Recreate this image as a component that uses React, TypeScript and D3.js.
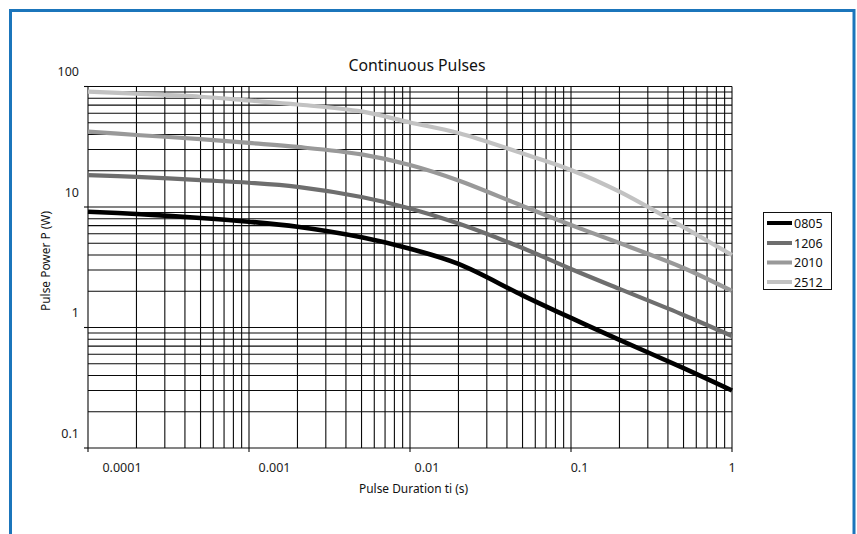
import React from "react";
import * as d3 from "d3";

const times = [1e-4, 2e-4, 5e-4, 1e-3, 2e-3, 5e-3, 0.01, 0.02, 0.05, 0.1, 0.2, 0.5, 1];
const p0805 = [9.14, 8.75, 8.11, 7.55, 6.85, 5.6, 4.5, 3.37, 1.85, 1.2, 0.79, 0.46, 0.3];
const p1206 = [18.4, 17.8, 16.7, 15.9, 14.7, 12.1, 9.72, 7.29, 4.57, 3.06, 2.09, 1.27, 0.85];
const p2010 = [42.2, 39.6, 36.6, 34.0, 31.5, 27.3, 22.3, 16.6, 10.2, 7.09, 5.02, 3.12, 2.01];
const p2512 = [90.6, 87.1, 82.2, 76.5, 70.9, 62.1, 50.3, 41.1, 27.8, 20.3, 13.4, 6.8, 4.0];

const seriesNames = ["0805", "1206", "2010", "2512"];
const seriesValues = [p0805, p1206, p2010, p2512];
const seriesColors = ["#000000", "#6e6e6e", "#999999", "#c2c2c2"];

const xTickLabels = ["0.0001", "0.001", "0.01", "0.1", "1"];
const xTickValues = [1e-4, 1e-3, 1e-2, 1e-1, 1];
const yTickLabels = ["0.1", "1", "10", "100"];
const yTickValues = [0.1, 1, 10, 100];

const title = "Continuous Pulses";
const xTitle = "Pulse Duration ti (s)";
const yTitle = "Pulse Power P (W)";

const W = 857;
const H = 534;
const FONT = "'Noto Sans', 'Open Sans', sans-serif";

export default function App() {
  const x = d3.scaleLog().domain([1e-4, 1]).range([88, 732]);
  const xLab = d3.scaleLog().domain([1e-4, 1]).range([122, 732]);
  const y = d3.scaleLog().domain([0.1, 100]).range([448, 86.5]);

  const vGrid: number[] = [];
  for (let k = -4; k < 0; k++) for (let m = 1; m <= 9; m++) vGrid.push(m * Math.pow(10, k));
  vGrid.push(1);
  const hGrid: number[] = [];
  for (let k = -1; k < 2; k++) for (let m = 1; m <= 9; m++) hGrid.push(m * Math.pow(10, k));
  hGrid.push(100);

  const line = d3
    .line<number>()
    .x((_, i) => x(times[i]))
    .y((v) => y(v))
    .curve(d3.curveCatmullRom.alpha(0.5));

  const legendY = [223, 243, 262.5, 282];

  return (
    <div style={{ position: "fixed", left: 0, top: 0 }}>
      <svg width={W} height={H} style={{ display: "block", background: "#fff" }}>
        <rect x={10.5} y={10.5} width={843.5} height={620} fill="none" stroke="#1b75bb" strokeWidth={3} />
        <text x={417} y={65} textAnchor="middle" dominantBaseline="central" fontFamily={FONT} fontSize={16} textLength={137} lengthAdjust="spacingAndGlyphs" fill="#111">
          {title}
        </text>
        <g stroke="#0a0a0a" strokeWidth={1.1}>
          {hGrid.map((v, i) => (
            <line key={"h" + i} x1={x(1e-4)} x2={x(1)} y1={y(v)} y2={y(v)} />
          ))}
          {vGrid.map((v, i) => (
            <line key={"v" + i} x1={x(v)} x2={x(v)} y1={y(0.1)} y2={y(100)} />
          ))}
          {yTickValues.map((v, i) => (
            <line key={"yt" + i} x1={x(1e-4) - 4} x2={x(1e-4)} y1={y(v)} y2={y(v)} />
          ))}
          {xTickValues.map((v, i) => (
            <line key={"xt" + i} x1={x(v)} x2={x(v)} y1={y(0.1)} y2={y(0.1) + 4} />
          ))}
        </g>
        {seriesValues.map((vals, i) => (
          <path key={seriesNames[i]} d={line(vals) || ""} fill="none" stroke={seriesColors[i]} strokeWidth={i === 0 ? 4.6 : 4.2} strokeLinejoin="round" />
        ))}
        <g fontFamily={FONT} fontSize={12.5} fill="#222">
          {yTickValues.map((v, i) => (
            <text key={"yl" + i} x={79} y={y(v) - 15} textAnchor="end" dominantBaseline="central">
              {yTickLabels[i]}
            </text>
          ))}
          {xTickValues.map((v, i) => (
            <text key={"xl" + i} x={xLab(v)} y={467} textAnchor="middle" dominantBaseline="central">
              {xTickLabels[i]}
            </text>
          ))}
        </g>
        <text x={413.5} y={488} textAnchor="middle" dominantBaseline="central" fontFamily={FONT} fontSize={12} textLength={109} lengthAdjust="spacingAndGlyphs" fill="#111">
          {xTitle}
        </text>
        <text transform="translate(45,261) rotate(-90)" textAnchor="middle" dominantBaseline="central" fontFamily={FONT} fontSize={12} textLength={100} lengthAdjust="spacingAndGlyphs" fill="#111">
          {yTitle}
        </text>
        <rect x={763.5} y={212.5} width={68} height={77} fill="#fff" stroke="#111" strokeWidth={1} />
        {seriesNames.map((n, i) => (
          <g key={"lg" + n}>
            <line x1={767} x2={792} y1={legendY[i]} y2={legendY[i]} stroke={seriesColors[i]} strokeWidth={4} />
            <text x={794} y={legendY[i]} dominantBaseline="central" fontFamily={FONT} fontSize={12.5} fill="#111">
              {n}
            </text>
          </g>
        ))}
      </svg>
    </div>
  );
}
